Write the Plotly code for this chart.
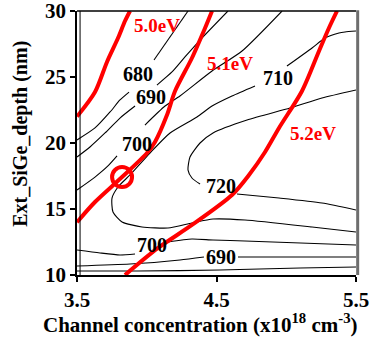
import plotly.graph_objects as go

# ---- data (x: channel concentration [1e18 cm^-3], y: Ext_SiGe depth [nm]) ----
# black iso-lines (None = break where the inline label sits)
c680a_x = [3.50, 3.629, 3.737, 3.808, 3.873, None, 4.052, 4.296]
c680a_y = [20.23, 21.14, 22.35, 23.26, 23.86, None, 26.29, 30.0]

c690a_x = [3.50, 3.593, 3.701, 3.808, 3.916, None, 4.073, 4.181, 4.274, 4.382, 4.582]
c690a_y = [18.94, 19.70, 20.76, 21.89, 22.80, None, 24.39, 25.38, 26.52, 27.80, 30.0]

c700a_x = [3.50, 3.629, 3.722, 3.787, None, 3.987, 4.131, 4.238, 4.468, 4.683, 4.970]
c700a_y = [16.44, 17.42, 18.26, 19.02, None, 21.36, 22.80, 23.56, 25.45, 26.97, 30.0]

c710_x = [5.50, 5.421, 5.378, 5.278, 5.185, 5.005, None,
          4.776, 4.611, 4.468, 4.360, 4.167, 4.023, 3.880, 3.794, 3.751, 3.758,
          3.823, 3.966, 4.152, 4.324, 4.475, 4.704, 5.185, 5.50]
c710_y = [28.48, 28.41, 28.33, 27.95, 27.20, 25.83, None,
          24.32, 23.56, 22.80, 21.97, 20.76, 19.24, 17.58, 16.67, 15.83, 14.77,
          14.02, 13.64, 13.56, 13.94, 14.24, 14.17, 13.64, 13.26]

c720_x = [5.50, 5.256, 5.027, 4.719, 4.475, 4.382, 4.310, 4.296, 4.324, 4.382, None,
          4.647, 4.948, 5.256, 5.50]
c720_y = [24.02, 23.41, 22.65, 21.74, 20.76, 20.00, 18.94, 17.95, 17.35, 16.89, None,
          16.14, 15.83, 15.45, 14.92]

c700b_x = [3.50, 3.665, 3.808, 3.916, None, 4.152, 4.324, 4.475, 4.704, 5.50]
c700b_y = [11.89, 11.67, 11.52, 11.59, None, 12.50, 12.73, 12.65, 12.58, 12.27]

c690b_x = [3.50, 3.880, 4.238, 4.410, None, 4.654, 5.50]
c690b_y = [10.68, 10.83, 11.14, 11.36, None, 11.36, 11.36]

c680b_x = [3.50, 3.930, 4.525, 5.099, 5.50]
c680b_y = [10.30, 10.30, 10.38, 10.53, 10.61]

# contour labels
lab_text = ["680", "690", "700", "710", "720", "700", "690"]
lab_x = [3.937, 4.034, 3.930, 4.941, 4.532, 4.038, 4.532]
lab_y = [25.19, 23.52, 19.89, 24.89, 16.74, 12.27, 11.33]

# red work-function lines
wf50_x = [3.50, 3.629, 3.715, 3.794, 3.844, 3.880]
wf50_y = [22.0, 23.86, 26.14, 27.95, 29.24, 30.0]
wf51_x = [3.50, 3.629, 3.823, 4.002, 4.059, 4.145, 4.203, 4.324, 4.418, 4.468]
wf51_y = [14.0, 15.53, 17.42, 19.24, 20.08, 22.12, 23.94, 26.44, 28.71, 30.0]
wf52_x = [3.844, 4.081, 4.324, 4.611, 4.733, 4.848, 4.948, 5.113, 5.235, 5.306, 5.364]
wf52_y = [10.0, 12.05, 13.79, 16.06, 17.58, 19.32, 21.14, 23.94, 26.97, 28.71, 30.0]

wf_text = ["5.0eV", "5.1eV", "5.2eV"]
wf_lab_x = [4.077, 4.597, 5.192]
wf_lab_y = [28.90, 26.06, 20.72]

# marked optimum point
opt_x = [3.823]
opt_y = [17.42]

x_ticks = [3.5, 4.5, 5.5]
y_ticks = [10, 15, 20, 25, 30]

FONT = "Liberation Serif, Times New Roman, serif"


def b(s):
    return "<b>" + s + "</b>"


fig = go.Figure()
for xs, ys in [(c680a_x, c680a_y), (c690a_x, c690a_y), (c700a_x, c700a_y), (c710_x, c710_y),
               (c720_x, c720_y), (c700b_x, c700b_y), (c690b_x, c690b_y), (c680b_x, c680b_y)]:
    fig.add_trace(go.Scatter(x=xs, y=ys, mode="lines", connectgaps=False,
                             line=dict(color="black", width=1.1, shape="spline", smoothing=0.6),
                             hoverinfo="skip", showlegend=False))
for xs, ys in [(wf50_x, wf50_y), (wf51_x, wf51_y), (wf52_x, wf52_y)]:
    fig.add_trace(go.Scatter(x=xs, y=ys, mode="lines",
                             line=dict(color="#ff0000", width=4, shape="spline", smoothing=0.8),
                             hoverinfo="skip", showlegend=False))
fig.add_trace(go.Scatter(x=opt_x, y=opt_y, mode="markers",
                         marker=dict(symbol="circle-open", size=20, color="#ff0000",
                                     line=dict(color="#ff0000", width=4)),
                         hoverinfo="skip", showlegend=False))

annotations = []
for t, x, y in zip(lab_text, lab_x, lab_y):
    annotations.append(dict(x=x, y=y, text=b(t), showarrow=False, xanchor="center", yanchor="middle",
                            font=dict(family=FONT, size=20, color="black")))
for t, x, y in zip(wf_text, wf_lab_x, wf_lab_y):
    annotations.append(dict(x=x, y=y, text=b(t), showarrow=False, xanchor="center", yanchor="middle",
                            font=dict(family=FONT, size=19, color="#ff0000")))
annotations.append(dict(xref="paper", yref="paper", x=0.444, y=-0.182,
                        text=b("Channel concentration (x10<sup>18</sup> cm<sup>-3</sup>)"),
                        showarrow=False, xanchor="center", yanchor="middle",
                        font=dict(family=FONT, size=21, color="black")))
annotations.append(dict(xref="paper", yref="paper", x=-0.205, y=0.534, textangle=-90,
                        text=b("Ext_SiGe_depth (nm)"), showarrow=False,
                        xanchor="center", yanchor="middle",
                        font=dict(family=FONT, size=20, color="black")))

fig.update_layout(
    width=377, height=338,
    margin=dict(l=77, r=21, t=11, b=63, autoexpand=False),
    paper_bgcolor="white", plot_bgcolor="white",
    annotations=annotations,
    shapes=[
        dict(type="line", xref="paper", yref="paper", x0=0, x1=1, y0=1, y1=1,
             line=dict(color="black", width=1.5)),
        dict(type="line", xref="paper", yref="paper", x0=1.006, x1=1.006, y0=0, y1=1.003,
             line=dict(color="#6e6e6e", width=3)),
        dict(type="line", xref="paper", yref="paper", x0=0.011, x1=0.011, y0=0, y1=1,
             line=dict(color="black", width=1)),
    ],
)
fig.update_xaxes(range=[3.5, 5.5], tickvals=x_ticks, ticktext=[b(s) for s in ["3.5", "4.5", "5.5"]],
                 automargin=False, ticklabeloverflow="allow",
                 showgrid=False, zeroline=False, showline=True, linecolor="black", linewidth=1.5,
                 ticks="outside", ticklen=5, tickcolor="black", tickwidth=1.5,
                 tickfont=dict(family=FONT, size=21, color="black"))
fig.update_yaxes(range=[10, 30], tickvals=y_ticks, ticktext=[b(str(v)) for v in y_ticks],
                 automargin=False, ticklabeloverflow="allow",
                 showgrid=False, zeroline=False, showline=True, linecolor="black", linewidth=1.5,
                 ticks="outside", ticklen=5, tickcolor="black", tickwidth=1.5,
                 tickfont=dict(family=FONT, size=21, color="black"))

fig.write_html("out.html", config={"displayModeBar": False},
               post_script="document.body.style.margin='0px';document.body.style.overflow='hidden';")
